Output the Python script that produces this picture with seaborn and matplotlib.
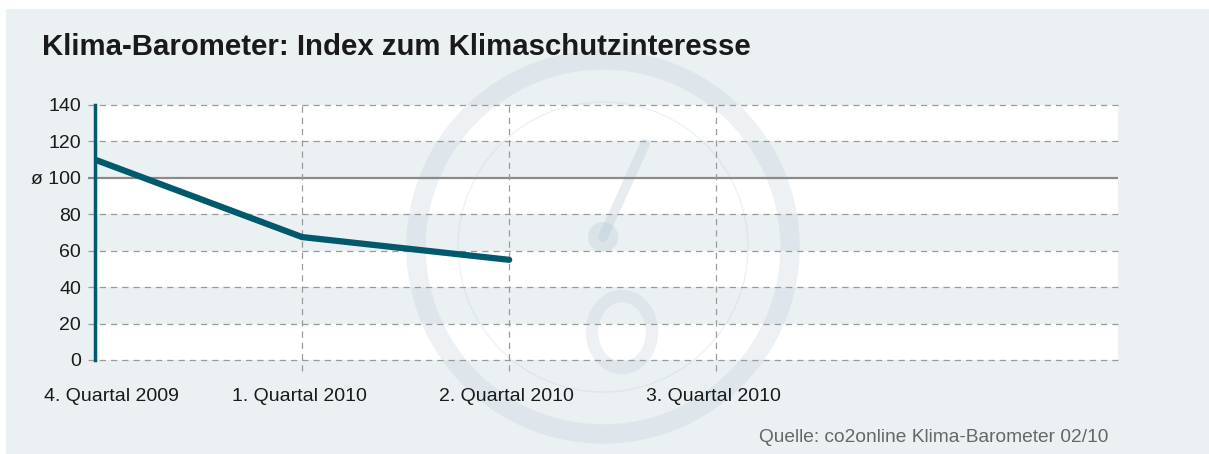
import numpy as np
import pandas as pd
import matplotlib
matplotlib.use("Agg")
import matplotlib.pyplot as plt
from matplotlib.patches import Circle, Ellipse
from matplotlib.transforms import ScaledTranslation
import seaborn as sns

# Data
quarters = ["4. Quartal 2009", "1. Quartal 2010", "2. Quartal 2010", "3. Quartal 2010"]
index_values = [110, 67.5, 55]
y_ticks = [0, 20, 40, 60, 80, 100, 120, 140]
y_labels = ["0", "20", "40", "60", "80", "ø 100", "120", "140"]

bg = "#ebf0f3"
teal = "#005a6b"

sns.set_style("white")
plt.rcParams["font.family"] = ["Liberation Sans", "DejaVu Sans"]

fig = plt.figure(figsize=(12.09, 4.54), dpi=100, facecolor="white")
# grey panel behind everything
fig.patches.append(plt.Rectangle((6 / 1209, 0), 1, 1 - 9 / 454, transform=fig.transFigure,
                                 facecolor=bg, edgecolor="none", zorder=-10))

ax = fig.add_axes([95 / 1209, 1 - 360 / 454, 1023 / 1209, 255 / 454])
ax.set_facecolor("white")

df = pd.DataFrame({"pos": range(len(index_values)), "index": index_values})

# alternating bands
for lo in [20, 60, 100]:
    ax.axhspan(lo, lo + 20, color=bg, lw=0, zorder=0)

# watermark gauge
wm = "#b9cbd5"
ax.add_patch(Circle((6.03, 2.07), 1.87, transform=fig.dpi_scale_trans, fill=False,
                    edgecolor=wm, lw=14, alpha=0.25, zorder=0.5, clip_on=False))
ax.add_patch(Circle((6.03, 2.07), 1.45, transform=fig.dpi_scale_trans, fill=False,
                    edgecolor=wm, lw=1, alpha=0.25, zorder=0.5, clip_on=False))
ax.add_patch(Circle((6.03, 2.17), 0.15, transform=fig.dpi_scale_trans, facecolor=wm,
                    edgecolor="none", alpha=0.35, zorder=0.5, clip_on=False))
ax.plot([6.03, 6.45], [2.17, 3.1], transform=fig.dpi_scale_trans, color=wm,
        lw=7, alpha=0.35, solid_capstyle="round", zorder=0.5, clip_on=False)
ax.add_patch(Ellipse((6.22, 1.22), 0.6, 0.72, transform=fig.dpi_scale_trans, fill=False,
                     edgecolor=wm, lw=9, alpha=0.25, zorder=0.5, clip_on=False))

# grid lines
xmax = 4.94
for y in y_ticks:
    if y == 100:
        ax.hlines(y, -0.035, xmax, color="#8a8a8a", lw=1.6, zorder=1, clip_on=False)
    else:
        ax.hlines(y, -0.035, xmax, color="#9a9a9a", lw=0.9, ls=(0, (5, 4)),
                  zorder=1, clip_on=False)
for x in [1, 2, 3]:
    ax.vlines(x, -6, 140, color="#9a9a9a", lw=0.9, ls=(0, (5, 4)), zorder=1, clip_on=False)

sns.lineplot(data=df, x="pos", y="index", ax=ax, color=teal, lw=4.5,
             solid_capstyle="round", solid_joinstyle="round", zorder=3)

ax.set_xlim(0, xmax)
ax.set_ylim(0, 140)
ax.set_xticks(range(len(quarters)))
ax.set_xticklabels(quarters)
ax.set_yticks(y_ticks)
ax.set_yticklabels(y_labels)
ax.tick_params(axis="both", length=0, labelsize=14, colors="#1a1a1a")
ax.tick_params(axis="x", pad=20)
ax.tick_params(axis="y", pad=10)
ax.set_xlabel("")
ax.set_ylabel("")

# nudge x labels like the reference (first one pushed inward)
for i, lab in enumerate(ax.get_xticklabels()):
    dx = 16 if i == 0 else -3
    lab.set_transform(lab.get_transform() + ScaledTranslation(dx / 100, 0, fig.dpi_scale_trans))

for s in ["top", "right", "bottom"]:
    ax.spines[s].set_visible(False)
ax.spines["left"].set_color(teal)
ax.spines["left"].set_linewidth(2.5)
ax.spines["left"].set_zorder(4)

fig.text(42 / 1209, 1 - 47 / 454, "Klima-Barometer: Index zum Klimaschutzinteresse",
         fontsize=21.2, fontweight="bold", color="#1a1a1a", va="center", ha="left")
fig.text(1108 / 1209, 1 - 437 / 454, "Quelle: co2online Klima-Barometer 02/10",
         fontsize=13.8, color="#666666", va="center", ha="right")

fig.savefig("out.png", dpi=100, facecolor="white")
